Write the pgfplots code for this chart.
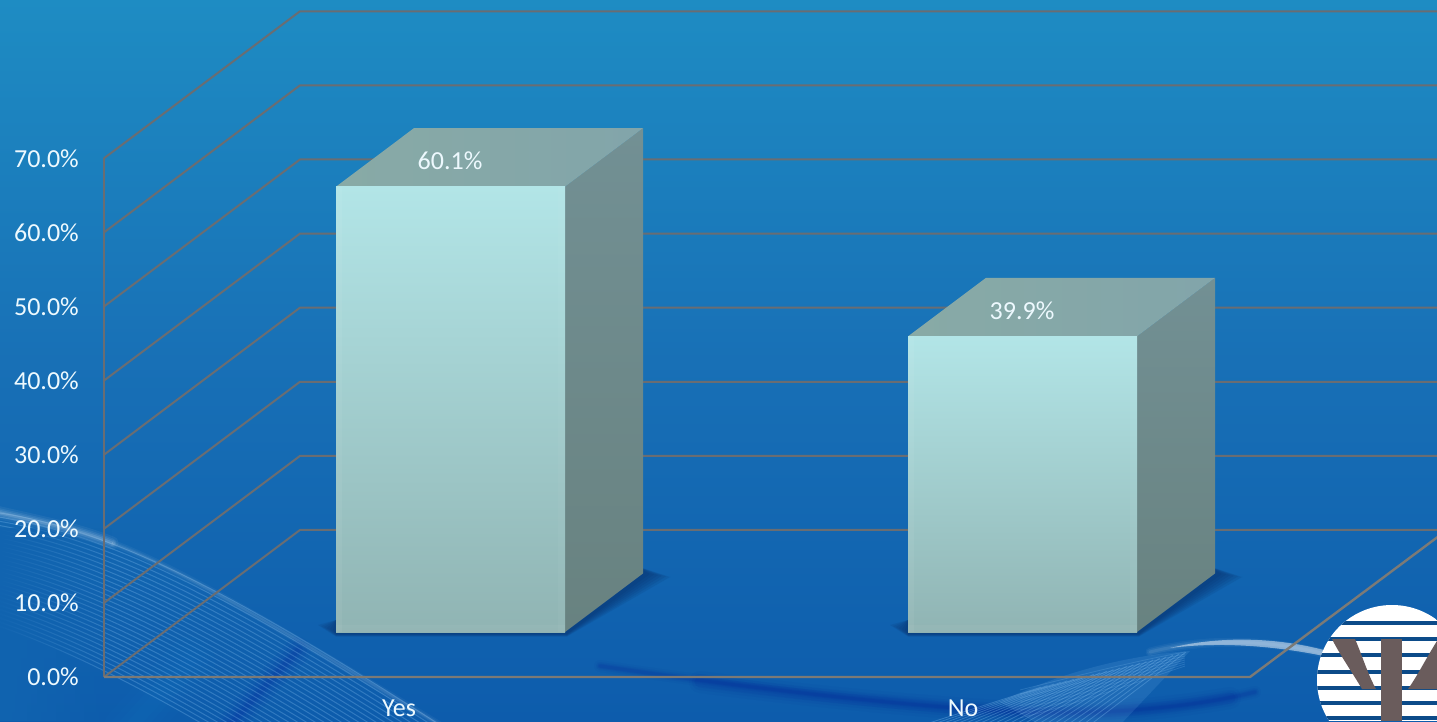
\documentclass[border=0pt]{standalone}
\usepackage{pgfplots}
\pgfplotsset{compat=1.18}
\usepackage{fontspec}
\usetikzlibrary{fadings}
\setmainfont{Carlito}
\definecolor{bgA}{RGB}{30,140,195}
\definecolor{bgB}{RGB}{24,112,182}
\definecolor{bgC}{RGB}{13,92,172}
\definecolor{gridc}{RGB}{106,109,114}
\definecolor{floorc}{RGB}{124,122,118}
\definecolor{faceA}{RGB}{178,229,231}
\definecolor{faceB}{RGB}{173,221,224}
\definecolor{faceC}{RGB}{144,180,179}
\definecolor{sideA}{RGB}{114,144,148}
\definecolor{sideB}{RGB}{104,130,128}
\definecolor{topA}{RGB}{130,165,170}
\definecolor{topB}{RGB}{136,170,166}
\definecolor{shadowc}{RGB}{8,46,104}
\definecolor{logoink}{RGB}{106,92,92}
\definecolor{fanc}{RGB}{130,190,240}

% vertical scale of the chart: 1 percent is 7.41 units of height
\newcommand{\solidbar}[2]{%
  \pgfmathsetmacro\xa{#1}%
  \pgfmathsetmacro\xb{#1+229}%
  \pgfmathsetmacro\xc{#1+78}%
  \pgfmathsetmacro\xd{#1+307}%
  \pgfmathsetmacro\xe{#1+6}%
  \pgfmathsetmacro\xf{#1+222}%
  \pgfmathsetmacro\ya{6.07}%
  \pgfmathsetmacro\yb{6.07+#2}%
  \pgfmathsetmacro\yc{6.07+7.9}%
  \pgfmathsetmacro\yd{6.07+7.9+#2}%
  \pgfmathsetmacro\ye{6.07+0.9}%
  % right side, darkening towards the floor
  \addplot[draw=none,top color=sideA,bottom color=sideB,forget plot]
    coordinates {(\xb,\ya) (\xd,\yc) (\xd,\yd) (\xb,\yb)} --cycle;
  % top
  \addplot[draw=none,left color=topB,right color=topA,forget plot]
    coordinates {(\xa,\yb) (\xb,\yb) (\xd,\yd) (\xc,\yd)} --cycle;
  % front
  \addplot[draw=none,top color=faceA,middle color=faceB,bottom color=faceC,forget plot]
    coordinates {(\xa,\ya) (\xb,\ya) (\xb,\yb) (\xa,\yb)} --cycle;
  % faint bevels round the front
  \addplot[draw=none,fill=white,fill opacity=.05,forget plot]
    coordinates {(\xa,\ya) (\xe,\ya) (\xe,\yb) (\xa,\yb)} --cycle;
  \addplot[draw=none,fill=white,fill opacity=.03,forget plot]
    coordinates {(\xf,\ya) (\xb,\ya) (\xb,\yb) (\xf,\yb)} --cycle;
  \addplot[draw=none,fill=white,fill opacity=.04,forget plot]
    coordinates {(\xa,\ya) (\xb,\ya) (\xb,\ye) (\xa,\ye)} --cycle;
}

\begin{document}
\begin{tikzpicture}
% backdrop, in the picture's own units with the origin at the top left corner
\begin{scope}[x=1pt,y=-1pt,shift={(0pt,721pt)}]
  \clip (0,0) rectangle (1437,721);
  \shade[top color=bgA,bottom color=bgB] (0,0) rectangle (1437,361);
  \shade[top color=bgB,bottom color=bgC] (0,360) rectangle (1437,721);

  % dark ribbon on the floor, tapering at both ends
  \foreach \w/\o in {22/.03,16/.04,11/.05}
    \draw[line width=\w pt,color=blue!55!black,opacity=\o,line cap=round]
      (700,682) .. controls (800,695) and (900,705) .. (1000,711)
      .. controls (1100,716) and (1170,708) .. (1230,698);
  \foreach \w/\o in {12/.03,8/.05,5/.06,3/.06}
    \draw[line width=\w pt,color=blue!55!black,opacity=\o,line cap=round]
      (600,666) .. controls (760,690) and (900,705) .. (1000,711)
      .. controls (1100,716) and (1190,708) .. (1255,692);

  % left swoosh: soft patches, then its fan of fine lines
  \foreach \w/\o in {50/.03,36/.04,24/.05,12/.05}
    \draw[cyan!70!blue,opacity=\o,line width=\w pt,line cap=round] (128,730) -- (190,662);
  \foreach \w/\o in {26/.04,18/.05,10/.06,5/.07}
    \draw[blue!60!black,opacity=\o,line width=\w pt,line cap=round] (225,730) -- (298,650);
  \foreach \k in {0,...,27}
    \draw[fanc,opacity=.30,line width=1pt]
      (0,{513+\k*4.2}) .. controls (110,{530+\k*5}) and (230,{590+\k*5.4}) .. (440,{725+\k*5.4});
  % the fan dissolves towards the left margin
  \fill[bgC!62!bgB,path fading=east] (-2,528) rectangle (112,721);
  % bright crest of the swoosh, strongest at the margin
  \foreach \w/\o in {13/.05,9/.07,6/.09,3/.12}
    \draw[white,opacity=\o,line width=\w pt,line cap=round]
      (-4,512) .. controls (40,522) and (80,530) .. (112,543);
  \foreach \w/\o in {7/.04,4/.05,2/.07}
    \draw[white,opacity=\o,line width=\w pt]
      (112,543) .. controls (170,565) and (250,610) .. (440,725);

  % right swoosh
  \fill[fanc,opacity=.14] (1000,702) .. controls (1060,672) and (1130,655) .. (1190,651) -- (1120,725) -- (1040,725) -- cycle;
  \foreach \k in {0,...,22}
    \draw[fanc,opacity=.34,line width=.8pt]
      ({1186-\k*6.6},{652+\k*1.6}) -- ({1090-\k*7.6},725);
  \foreach \k in {0,...,7}
    \draw[fanc,opacity=.22,line width=.8pt]
      (1020,{690+\k*4}) .. controls (1080,{675+\k*4}) and (1140,{660+\k*3}) .. (1185,{652+\k*2});
  % bright ridge running into the emblem
  \foreach \w/\o in {9/.04,6/.06,3/.08}
    \draw[white,opacity=\o,line width=\w pt,line cap=round]
      (1150,652) .. controls (1190,642) and (1250,636) .. (1322,653);
  \fill[white,opacity=.45] (1170,648) .. controls (1215,637) and (1270,636) .. (1324,650)
    -- (1324,656) .. controls (1270,645) and (1215,642) .. (1170,648) -- cycle;

  % shadows cast by the two boxes on the floor
  \foreach \x in {336,908}
    \foreach \k in {0,...,5}
      \fill[shadowc,opacity=.13]
        ({\x-3-3*\k},{630-\k}) -- (\x,{634+.5*\k}) -- ({\x+231},{634+.5*\k})
        -- ({\x+314+4*\k},{574+.6*\k}) -- ({\x+300},{566}) -- ({\x+229},620) -- (\x,620) -- cycle;

  % emblem
  \begin{scope}
    \clip (1392,680) circle (75);
    \fill[white] (1310,600) rectangle (1437,721);
    \foreach \y in {623,639,655,672,688,703,718}
      \fill[bgC!75!black!85!bgB] (1310,{\y-1.6}) rectangle (1437,{\y+1.6});
    \fill[logoink] (1332,639) -- (1355,639) .. controls (1362,655) and (1368,675) .. (1376,689)
      -- (1362,689) .. controls (1352,672) and (1340,655) .. (1332,639) -- cycle;
    \fill[logoink] (1381,639) rectangle (1402,721);
    \fill[logoink] (1437,641) .. controls (1425,660) and (1418,675) .. (1408,689) -- (1437,689) -- cycle;
  \end{scope}
\end{scope}

\begin{axis}[
  at={(0pt,0pt)},anchor=south west,
  scale only axis,width=1437pt,height=721pt,
  xmin=0,xmax=1437,ymin=-5.938,ymax=91.36,
  axis line style={draw=none},
  tick style={draw=none},
  xtick={399,963},
  xticklabels={Yes,No},
  ytick={0,10,20,30,40,50,60,70},
  yticklabels={0.0\%,10.0\%,20.0\%,30.0\%,40.0\%,50.0\%,60.0\%,70.0\%},
  tick label style={font=\fontsize{26}{26}\selectfont,text=white!93!cyan},
  yticklabel style={anchor=east,inner sep=0pt,xshift=79pt},
  xticklabel style={anchor=center,inner sep=0pt,yshift=13pt},
  clip=true,
]
% walls: one line per gridline, from the side wall round to the back wall
\pgfplotsset{wall/.style={draw=gridc,line width=2pt,line join=round,forget plot}}
\addplot[wall] coordinates {(104,0)  (300,19.84) (1447,19.84)};
\addplot[wall] coordinates {(104,10) (300,29.84) (1447,29.84)};
\addplot[wall] coordinates {(104,20) (300,39.84) (1447,39.84)};
\addplot[wall] coordinates {(104,30) (300,49.84) (1447,49.84)};
\addplot[wall] coordinates {(104,40) (300,59.84) (1447,59.84)};
\addplot[wall] coordinates {(104,50) (300,69.84) (1447,69.84)};
\addplot[wall] coordinates {(104,60) (300,79.84) (1447,79.84)};
\addplot[wall] coordinates {(104,70) (300,89.84) (1447,89.84)};
% value axis and floor edge
\addplot[draw=gridc,line width=2pt,forget plot] coordinates {(104,70) (104,0)};
\addplot[draw=floorc,line width=2.4pt,line join=round,forget plot]
  coordinates {(104,0) (1250,0) (1447,19.84)};

\solidbar{336}{60.1}
\solidbar{908}{39.9}

\node[font=\fontsize{26}{26}\selectfont,text=white!93!cyan] at (axis cs:450,69.6) {60.1\%};
\node[font=\fontsize{26}{26}\selectfont,text=white!93!cyan] at (axis cs:1022,49.4) {39.9\%};
\end{axis}
\end{tikzpicture}
\end{document}
